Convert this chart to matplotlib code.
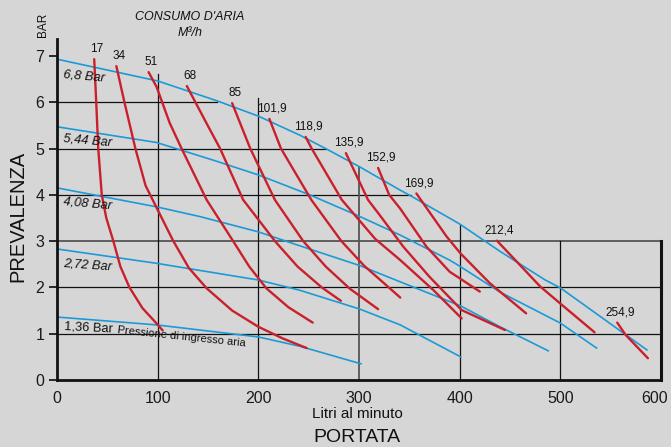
import matplotlib
matplotlib.use("Agg")
import matplotlib.pyplot as plt
import matplotlib.transforms as mtransforms

plt.rcParams["font.family"] = ["Liberation Sans", "DejaVu Sans"]

# Air pressure curves (blue): portata [l/min] -> prevalenza [bar]
bar_68_x = [0, 100, 159, 200, 241, 266, 301, 341, 352, 400, 440, 485, 500, 586]
bar_68_y = [6.93, 6.46, 6.03, 5.70, 5.29, 5.01, 4.60, 4.10, 3.97, 3.37, 2.78, 2.16, 1.99, 0.65]
bar_544_x = [0, 99, 155, 200, 251, 301, 341, 390, 400, 440, 500, 536]
bar_544_y = [5.47, 5.13, 4.75, 4.43, 4.00, 3.53, 3.13, 2.59, 2.46, 1.90, 1.23, 0.69]
bar_408_x = [0, 99, 142, 200, 241, 301, 341, 401, 440, 488]
bar_408_y = [4.15, 3.74, 3.53, 3.20, 2.90, 2.47, 2.12, 1.60, 1.15, 0.63]
bar_272_x = [0, 99, 200, 241, 301, 341, 401]
bar_272_y = [2.83, 2.52, 2.16, 1.94, 1.53, 1.19, 0.50]
bar_136_x = [0, 99, 200, 241, 302]
bar_136_y = [1.36, 1.19, 0.93, 0.73, 0.35]

# Air consumption curves (red), M3/h
air_labels = ["17", "34", "51", "68", "85", "101,9", "118,9", "135,9",
              "152,9", "169,9", "212,4", "254,9"]
air_x = [
    [37, 39, 41, 44.5, 49, 56, 63, 72, 85, 99, 105],
    [59, 67, 78, 88, 99, 115.6, 131, 148.7, 174, 200, 224, 248],
    [91, 99, 112, 124, 148.7, 175, 191, 208, 230, 254],
    [129, 148.7, 162, 185, 216.5, 239, 263, 282],
    [174, 192, 216.5, 244.6, 267, 291, 319],
    [211, 222.5, 252.7, 282.5, 305, 328, 341],
    [247, 253, 283, 316, 341, 374, 402],
    [287, 309, 321, 344, 370, 402, 445],
    [319, 330, 341, 367, 390, 420],
    [357, 387, 401, 430, 466],
    [437, 480, 499.5, 534],
    [556.5, 565, 587],
]
air_y = [
    [6.93, 6.0, 5.0, 4.0, 3.5, 3.0, 2.45, 2.0, 1.55, 1.22, 1.07],
    [6.78, 6.0, 4.99, 4.2, 3.72, 3.0, 2.42, 1.98, 1.50, 1.15, 0.90, 0.69],
    [6.65, 6.33, 5.55, 4.99, 3.89, 3.0, 2.45, 1.98, 1.57, 1.24],
    [6.35, 5.54, 5.0, 3.89, 3.0, 2.45, 2.0, 1.71],
    [5.98, 5.0, 3.89, 3.0, 2.45, 1.97, 1.53],
    [5.64, 5.0, 3.89, 3.0, 2.47, 2.03, 1.78],
    [5.25, 5.0, 3.89, 3.05, 2.59, 1.94, 1.33],
    [4.9, 3.89, 3.55, 2.88, 2.23, 1.51, 1.08],
    [4.58, 4.0, 3.7, 2.88, 2.34, 1.91],
    [4.03, 3.10, 2.73, 2.09, 1.44],
    [3.01, 2.02, 1.66, 1.03],
    [1.24, 0.97, 0.47],
]

# grid lines only run up to the 6,8 bar curve
h_grid_y = [1, 2, 3, 4, 5, 6]
h_grid_xmax = [600, 600, 600, 352, 267, 159]
v_grid_x = [100, 200, 300, 400, 500]
v_grid_ymax = [6.61, 6.10, 4.61, 3.35, 3.0]

x_ticks = [0, 100, 200, 300, 400, 500, 600]
y_ticks = [0, 1, 2, 3, 4, 5, 6, 7]

BLUE = "#1b9ad6"
RED = "#c9202c"
BG = "#d6d6d6"
INK = "#111111"

fig = plt.figure(figsize=(6.71, 4.47), dpi=100, facecolor=BG)
ax = fig.add_axes([0.0849, 0.1499, 0.9002, 0.7633])
ax.set_facecolor(BG)
ax.set_xlim(0, 600)
ax.set_ylim(0, 7.37)

# grid
for y, xm in zip(h_grid_y, h_grid_xmax):
    col, lw = ("#555555", 1.3) if y == 3 else (INK, 0.9)
    ax.plot([0, xm], [y, y], color=col, lw=lw, zorder=1)
for x, ym in zip(v_grid_x, v_grid_ymax):
    col, lw = ("#555555", 1.3) if x == 300 else (INK, 0.9)
    ax.plot([x, x], [0, ym], color=col, lw=lw, zorder=1)
ax.plot([600, 600], [0, 3], color=INK, lw=2.2, zorder=1, clip_on=False)

# blue pressure curves
for xs, ys in [(bar_68_x, bar_68_y), (bar_544_x, bar_544_y), (bar_408_x, bar_408_y),
               (bar_272_x, bar_272_y), (bar_136_x, bar_136_y)]:
    ax.plot(xs, ys, color=BLUE, lw=1.2, zorder=2)

# red consumption curves with their labels
for lab, xs, ys in zip(air_labels, air_x, air_y):
    ax.plot(xs, ys, color=RED, lw=1.7, zorder=3, solid_capstyle="round",
            solid_joinstyle="round")
    ax.annotate(lab, (xs[0], ys[0]), xytext=(2, 3), textcoords="offset points",
                ha="center", va="bottom", fontsize=8.5, color=INK)

# pressure labels
ax.text(6, 6.57, "6,8 Bar", fontsize=9.3, style="italic", rotation=-5, va="center", color=INK)
ax.text(6, 5.18, "5,44 Bar", fontsize=9.3, style="italic", rotation=-5, va="center", color=INK)
ax.text(6, 3.80, "4,08 Bar", fontsize=9.3, style="italic", rotation=-5, va="center", color=INK)
ax.text(6, 2.48, "2,72 Bar", fontsize=9.3, style="italic", rotation=-4, va="center", color=INK)
ax.text(7, 1.12, "1,36 Bar", fontsize=9.3, rotation=-3, va="center", color=INK)
ax.text(60, 0.93, "Pressione di ingresso aria", fontsize=8, rotation=-6,
        va="center", color=INK)

# axes styling
for s in ["top", "right"]:
    ax.spines[s].set_visible(False)
for s in ["left", "bottom"]:
    ax.spines[s].set_linewidth(2.0)
    ax.spines[s].set_color(INK)
ax.set_xticks(x_ticks)
ax.set_yticks(y_ticks)
ax.tick_params(axis="x", length=0, pad=8, labelsize=11.5, colors="#1a1a1a")
ax.tick_params(axis="y", length=6, width=1.3, pad=3, labelsize=11.5, colors="#1a1a1a")
# last x label sits a little to the left, as in the original
last = ax.get_xticklabels()[-1]
last.set_transform(last.get_transform() +
                   mtransforms.ScaledTranslation(-6 / 100, 0, fig.dpi_scale_trans))

fig.text(18 / 671, 1 - 216 / 447, "PREVALENZA", rotation=90, ha="center", va="center",
         fontsize=14.5, color=INK)
fig.text(357 / 671, 1 - 414 / 447, "Litri al minuto", ha="center", va="center",
         fontsize=11, color=INK)
fig.text(357 / 671, 1 - 438 / 447, "PORTATA", ha="center", va="center",
         fontsize=14, color=INK)
fig.text(43 / 671, 1 - 25 / 447, "BAR", rotation=90, ha="center", va="center",
         fontsize=8.5, color=INK)
fig.text(190 / 671, 1 - 17 / 447, "CONSUMO D'ARIA", ha="center", va="center",
         fontsize=9, style="italic", color=INK)
fig.text(190 / 671, 1 - 33 / 447, "M³/h", ha="center", va="center",
         fontsize=9, style="italic", color=INK)

fig.savefig("out.png", dpi=100, facecolor=BG)
